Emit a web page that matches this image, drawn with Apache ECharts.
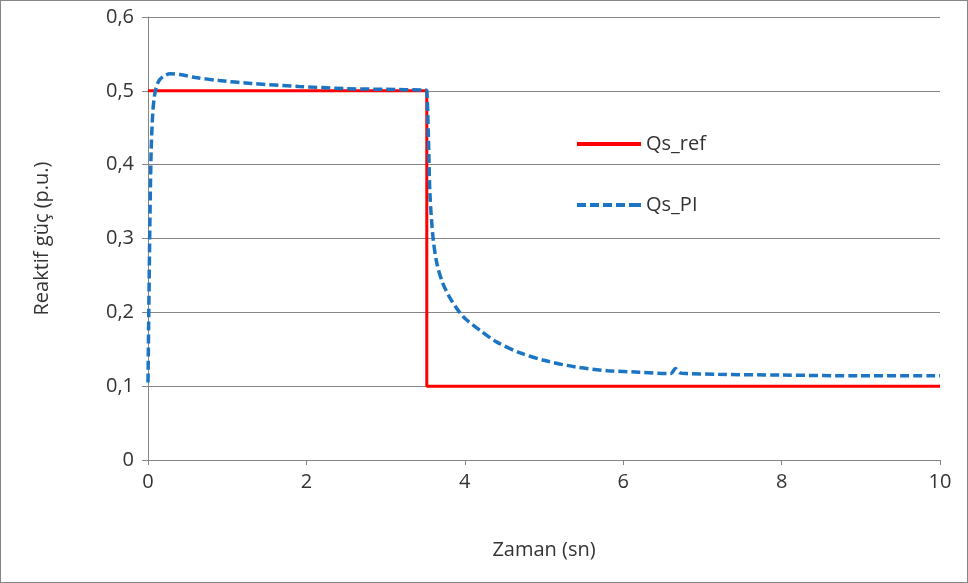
<!DOCTYPE html>
<html>
<head>
<meta charset="utf-8">
<style>
    html,body{margin:0;padding:0;background:#fff;}
    #chart{
        width: 968px;
        height: 583px;
        box-sizing: border-box;
        border: 1px solid #868686;
    }
</style>
<script src="https://cdn.jsdelivr.net/npm/echarts@6/dist/echarts.min.js"></script>
</head>
<body>
<div id="chart"></div>
<script>
    // referans (kırmızı)
    var refTime = [0, 3.52, 3.52, 10];
    var refValue = [0.5, 0.5, 0.1, 0.1];

    // PI cevabı (mavi kesikli)
    var piTime = [0, 0.01, 0.025, 0.04, 0.06, 0.08, 0.1, 0.14, 0.2, 0.28, 0.4, 0.6, 0.9, 1.3, 1.9, 2.5, 3.0, 3.5, 3.52,
        3.54, 3.56, 3.6, 3.65, 3.72, 3.8, 3.9, 4.0, 4.2, 4.4, 4.7, 5.0, 5.4, 5.8, 6.2, 6.6, 6.66, 6.68, 6.72, 6.8, 7.2, 8.0, 9.0, 10];
    var piValue = [0.105, 0.2, 0.33, 0.42, 0.47, 0.492, 0.503, 0.514, 0.52, 0.523, 0.522, 0.518, 0.514, 0.51, 0.506, 0.503, 0.502, 0.501, 0.5,
        0.44, 0.36, 0.3, 0.265, 0.24, 0.222, 0.205, 0.192, 0.175, 0.16, 0.145, 0.135, 0.126, 0.121, 0.119, 0.117, 0.124, 0.122, 0.118, 0.117, 0.116, 0.115, 0.114, 0.114];

    var yTicks = ['0', '0,1', '0,2', '0,3', '0,4', '0,5', '0,6'];

    function pairs(xs, ys){
        var out = [];
        for (var i = 0; i < xs.length; i++) out.push([xs[i], ys[i]]);
        return out;
    }

    var font = '"Open Sans", "Liberation Sans", sans-serif';
    var txt = '#333333';

    var option = {
        animation: false,
        grid: { left: 147, right: 27, top: 16, bottom: 122 },
        legend: {
            orient: 'vertical',
            left: 571,
            top: 128,
            itemGap: 41,
            itemWidth: 64,
            itemHeight: 14,
            textStyle: { fontFamily: font, fontSize: 20, color: txt },
            data: [
                { name: 'Qs_ref', icon: 'path://M0,5 L64,5 L64,9 L0,9 Z' },
                { name: 'Qs_PI', icon: 'path://M0,5h9v4h-9z M13,5h9v4h-9z M26,5h9v4h-9z M39,5h9v4h-9z M52,5h12v4h-12z M0,0h0.01v14h-0.01z' }
            ]
        },
        xAxis: {
            type: 'value',
            min: 0, max: 10, interval: 2,
            name: 'Zaman (sn)',
            nameLocation: 'middle',
            nameGap: 80,
            nameTextStyle: { fontFamily: font, fontSize: 20, color: txt },
            axisLine: { onZero: false, lineStyle: { color: '#868686', width: 1 } },
            axisTick: { show: true, length: 5, inside: false, lineStyle: { color: '#868686' } },
            axisLabel: { fontFamily: font, fontSize: 20, color: txt, margin: 12 },
            splitLine: { show: false }
        },
        yAxis: {
            type: 'value',
            min: 0, max: 0.6, interval: 0.1,
            name: 'Reaktif güç (p.u.)',
            nameLocation: 'middle',
            nameGap: 96,
            nameRotate: 90,
            nameTextStyle: { fontFamily: font, fontSize: 20, color: txt },
            axisLine: { show: true, lineStyle: { color: '#868686', width: 1 } },
            axisTick: { show: true, length: 6, lineStyle: { color: '#868686' } },
            axisLabel: {
                fontFamily: font, fontSize: 20, color: txt, margin: 14,
                formatter: function (v) { return yTicks[Math.round(v * 10)]; }
            },
            splitLine: { show: true, lineStyle: { color: '#868686', width: 1 } }
        },
        series: [
            {
                name: 'Qs_ref',
                type: 'line',
                data: pairs(refTime, refValue),
                showSymbol: false,
                symbol: 'none',
                lineStyle: { color: '#ff0000', width: 3 },
                itemStyle: { color: '#ff0000' },
                z: 2
            },
            {
                name: 'Qs_PI',
                type: 'line',
                data: pairs(piTime, piValue),
                smooth: 0.3,
                showSymbol: false,
                symbol: 'none',
                lineStyle: { color: '#1b75c2', width: 3.5, type: [9, 4] },
                itemStyle: { color: '#1b75c2' },
                z: 3
            }
        ]
    };

    echarts.init(document.getElementById('chart')).setOption(option);
</script>
</body>
</html>
